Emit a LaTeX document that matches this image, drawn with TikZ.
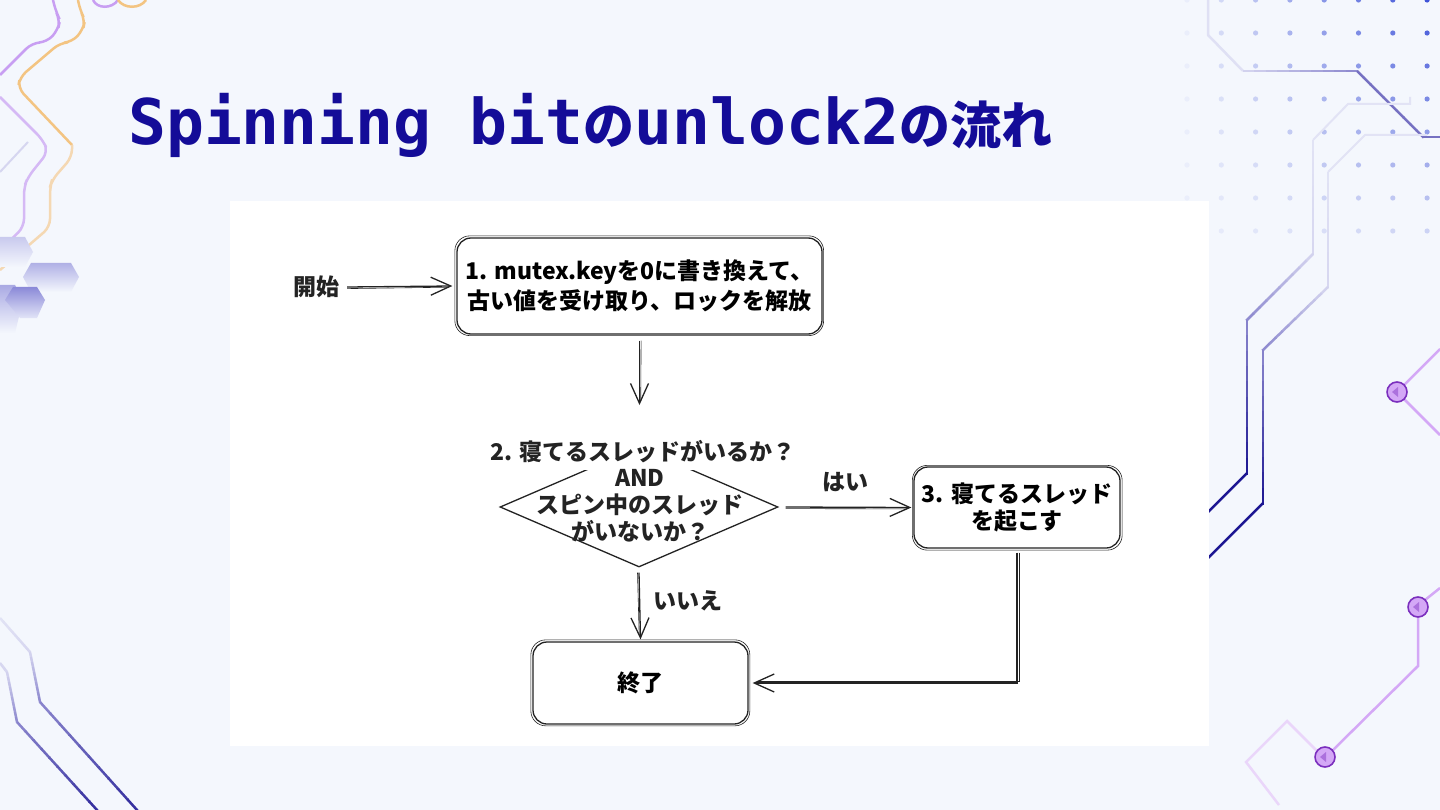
\documentclass[tikz,border=0pt]{standalone}
\usepackage{fontspec}
\usetikzlibrary{arrows.meta,shapes.geometric,calc}
\newfontfamily\jp{Noto Sans CJK JP}
\newfontfamily\tmono{DejaVu Sans Mono}
\definecolor{bg}{RGB}{244,247,253}
\definecolor{ttl}{RGB}{20,12,152}
\definecolor{ink}{RGB}{35,35,35}
\definecolor{dotc}{RGB}{50,72,214}
\definecolor{purl}{RGB}{200,158,242}
\definecolor{oran}{RGB}{243,196,130}
\definecolor{lavl}{RGB}{214,214,240}
\definecolor{lavm}{RGB}{140,136,206}
\definecolor{navy}{RGB}{28,22,146}
\definecolor{ringc}{RGB}{123,47,190}
\definecolor{pline}{RGB}{212,168,246}
\definecolor{plight}{RGB}{234,214,250}
\definecolor{hexc}{RGB}{120,118,210}
\newcommand\chartfont{\jp\bfseries\fontsize{23}{27}\selectfont}
\newcommand\gradseg[5]{%
  \foreach \k in {1,...,10}{%
    \pgfmathsetmacro\ta{(\k-1)/10}%
    \pgfmathsetmacro\tb{\k/10+0.01}%
    \pgfmathtruncatemacro\pc{105-\k*10}%
    \draw[line width=#5, draw={#3!\pc!#4}] ($#1!\ta!#2$) -- ($#1!\tb!#2$);}}
\tikzset{
  box/.style={draw=ink, line width=1.3pt, rounded corners=14pt, fill=white,
    align=center, font=\chartfont, inner sep=0pt},
  diam/.style={shape=diamond, draw=ink, line width=1.3pt, minimum width=278pt,
    minimum height=120pt, inner sep=0pt},
  lbl/.style={font=\chartfont, text=ink, align=center, inner sep=2pt},
  arr/.style={draw=ink, line width=1.3pt, -{Straight Barb[length=20pt,width=18pt]}},
  thin/.style={draw=ink, line width=0.6pt},
  thinbox/.style={draw=ink, line width=0.6pt, rounded corners=15pt},
  pl/.style={draw=pline, line width=2.5pt},
  ring/.style={draw=ringc, line width=1.6pt, fill=pline},
}
\begin{document}
\begin{tikzpicture}[x=1pt,y=-1pt]
\useasboundingbox (0,0) rectangle (1440,810);
\fill[bg] (0,0) rectangle (1440,810);

% ---------- left top decorations ----------
\draw[purl, line width=2.5pt, rounded corners=8pt] (53,0) -- (56,12) -- (60,20) -- (58,30) -- (47,42) -- (32,43) -- (0,75);
\draw[purl!70!bg, line width=2.5pt, rounded corners=8pt] (0,97) -- (43,140) -- (48,152) -- (28,177) -- (24,187) -- (24,227) -- (0,250);
\draw[oran, line width=2.5pt, rounded corners=8pt] (78,0) -- (80,10) -- (85,20) -- (83,30) -- (72,42) -- (60,43) -- (20,77) -- (18,88) -- (72,145);
\draw[oran!60!bg, line width=2.5pt, rounded corners=8pt] (72,145) -- (72,157) -- (52,180) -- (50,187) -- (50,227) -- (0,270);
\draw[purl, line width=2.5pt] (93,0) .. controls (97,9) and (112,9) .. (118,0);
\draw[oran, line width=2.5pt] (118,0) .. controls (124,9) and (140,9) .. (146,0);
\draw[lavl, line width=2pt] (28,142) -- (0,172);

% hexagons
\shade[top color=hexc!35!bg, bottom color=bg] (0,237) -- (25,237) -- (33,252) -- (25,267) -- (0,267) -- cycle;
\shade[top color=hexc!55!bg, bottom color=bg] (31,263) -- (71,263) -- (79,277) -- (71,292) -- (31,292) -- (23,277) -- cycle;
\shade[top color=hexc!60!bg, bottom color=bg] (0,285) -- (15,285) -- (23,300) -- (15,333) -- (0,333) -- cycle;
\shade[top color=hexc!85!bg, bottom color=hexc!15!bg] (13,287) -- (37,287) -- (45,300) -- (37,318) -- (20,318) -- (5,300) -- cycle;

% ---------- left bottom lines ----------
\gradseg{(0,618)}{(30,652)}{lavl!60!bg}{lavl}{2.5pt}
\gradseg{(30,652)}{(40,702)}{lavl}{lavm}{2.5pt}
\gradseg{(40,702)}{(137,810)}{lavm}{navy!80!lavm}{2.5pt}
\gradseg{(0,663)}{(7,672)}{lavl}{lavl}{2.5pt}
\gradseg{(7,672)}{(17,722)}{lavl}{lavm}{2.5pt}
\gradseg{(17,722)}{(97,810)}{lavm}{navy!80!lavm}{2.5pt}

% ---------- right top dots ----------
\foreach \i in {0,...,7}{\foreach \j in {0,...,7}{%
  \pgfmathsetmacro\op{0.05+0.88*(\i/7)*(1-\j/8.5)}%
  \fill[dotc, opacity=\op] (1187+34.3*\i,33*\j) circle[radius=2.6];}}

% ---------- right circuit lines ----------
\draw[lavl!70!bg, line width=2.5pt] (1208,0) -- (1208,35) -- (1243,71);
\gradseg{(1243,71)}{(1357,71)}{lavl}{lavm}{2.5pt}
\gradseg{(1357,71)}{(1423,137)}{lavm}{lavm!80!navy}{2.5pt}
\draw[lavm!80!navy, line width=2.5pt] (1423,137) -- (1440,137);
\draw[lavl!60!bg, line width=2pt] (1410,97) -- (1410,104) -- (1348,104) -- (1313,140);
\gradseg{(1313,140)}{(1313,254)}{lavl!60!bg}{lavl}{2.5pt}
\gradseg{(1313,254)}{(1247,320)}{lavl}{lavm}{2.5pt}
\gradseg{(1247,320)}{(1247,473)}{lavm}{navy}{2.5pt}
\draw[navy, line width=2.5pt] (1247,473) -- (1205,515);
\draw[lavl!60!bg, line width=2pt] (1427,135) -- (1365,135) -- (1328,172);
\gradseg{(1328,172)}{(1328,287)}{lavl!60!bg}{lavl}{2.5pt}
\gradseg{(1328,287)}{(1263,350)}{lavl}{lavm}{2.5pt}
\gradseg{(1263,350)}{(1263,503)}{lavm}{navy}{2.5pt}
\draw[navy, line width=2.5pt] (1263,503) -- (1205,561);

% purple circuit
\draw[pl] (1404,385) -- (1440,349);
\draw[pl] (1404,399) -- (1440,435);
\draw[pl] (1425,600) -- (1440,588);
\draw[pl] (1418,617) -- (1418,666) -- (1333,750);
\draw[plight, line width=2.5pt] (1317,751) -- (1287,721) -- (1246,762) -- (1279,805);
\foreach \cx/\cy in {1397/392,1418/607,1325/757}{%
  \draw[ring] (\cx,\cy) circle[radius=10];
  \fill[ringc!45!pline] (\cx-5,\cy) -- (\cx+1,\cy-5) -- (\cx+1,\cy+5) -- cycle;}

% ---------- title ----------
\node[anchor=base west, inner sep=0pt, text=ttl] (title) at (128,145)
  {\tmono\bfseries\fontsize{63}{70}\selectfont Spinning bit%
   {\jp\bfseries\fontsize{51}{70}\selectfont の}unlock2%
   {\jp\bfseries\fontsize{51}{70}\selectfont の流れ}};

% ---------- chart panel ----------
\fill[white] (230,201) rectangle (1209,746);

\node[lbl] (start) at (316,287) {開始};
\node[box, minimum width=365pt, minimum height=96pt] (b1) at (639.5,286)
  {1. mutex.keyを0に書き換えて、\\[3pt]古い値を受け取り、ロックを解放};
\node[diam] (q2) at (639,507) {};
\node[lbl, fill=white, minimum height=36pt] (q2a) at (643,452) {2. 寝てるスレッドがいるか？};
\node[lbl] (q2b) at (640,506) {AND\\スピン中のスレッド\\がいないか？};
\node[box, minimum width=206pt, minimum height=81pt] (b3) at (1017,507.5) {3. 寝てるスレッド\\を起こす};
\node[box, minimum width=215pt, minimum height=82pt] (be) at (640.5,683) {終了};
\node[lbl] (yes) at (845,482) {はい};
\node[lbl] (no) at (688,601) {いいえ};
\coordinate (q2in) at (639.5,405);

% sketch second strokes
\draw[thinbox] ([shift={(-1.5,1)}]b1.south west) rectangle ([shift={(1,-1.5)}]b1.north east);
\draw[thinbox] ([shift={(-1,1.5)}]b3.south west) rectangle ([shift={(1.5,-1)}]b3.north east);
\draw[thinbox] ([shift={(-1.5,1.2)}]be.south west) rectangle ([shift={(1.2,-1.5)}]be.north east);

% connectors
\draw[arr] ([xshift=6pt]start.east) -- ([xshift=-4pt]b1.west);
\draw[thin] ([shift={(6,1.6)}]start.east) -- ([shift={(-8,1.2)}]b1.west);
\draw[arr] ([yshift=-6pt]b1.south) -- (q2in);
\draw[thin] ([shift={(1.6,6)}]b1.south) -- ([shift={(1.2,-4)}]q2in);
\draw[arr] ([xshift=7pt]q2.east) -- ([xshift=-2pt]b3.west);
\draw[thin] ([shift={(7,1.6)}]q2.east) -- ([shift={(-6,1.4)}]b3.west);
\draw[arr] ([yshift=-5pt]q2.south) -- ([yshift=2pt]be.north);
\draw[thin] ([shift={(-1.5,5)}]q2.south) -- ([shift={(-1.3,-6)}]be.north);
\draw[arr] ([yshift=-4pt]b3.south) |- ([xshift=4pt]be.east);
\draw[thin] ([shift={(1.8,4)}]b3.south) -- ([shift={(1.8,-1.8)}]b3.south |- be.east) -- ([shift={(8,-1.8)}]be.east);
\end{tikzpicture}
\end{document}
